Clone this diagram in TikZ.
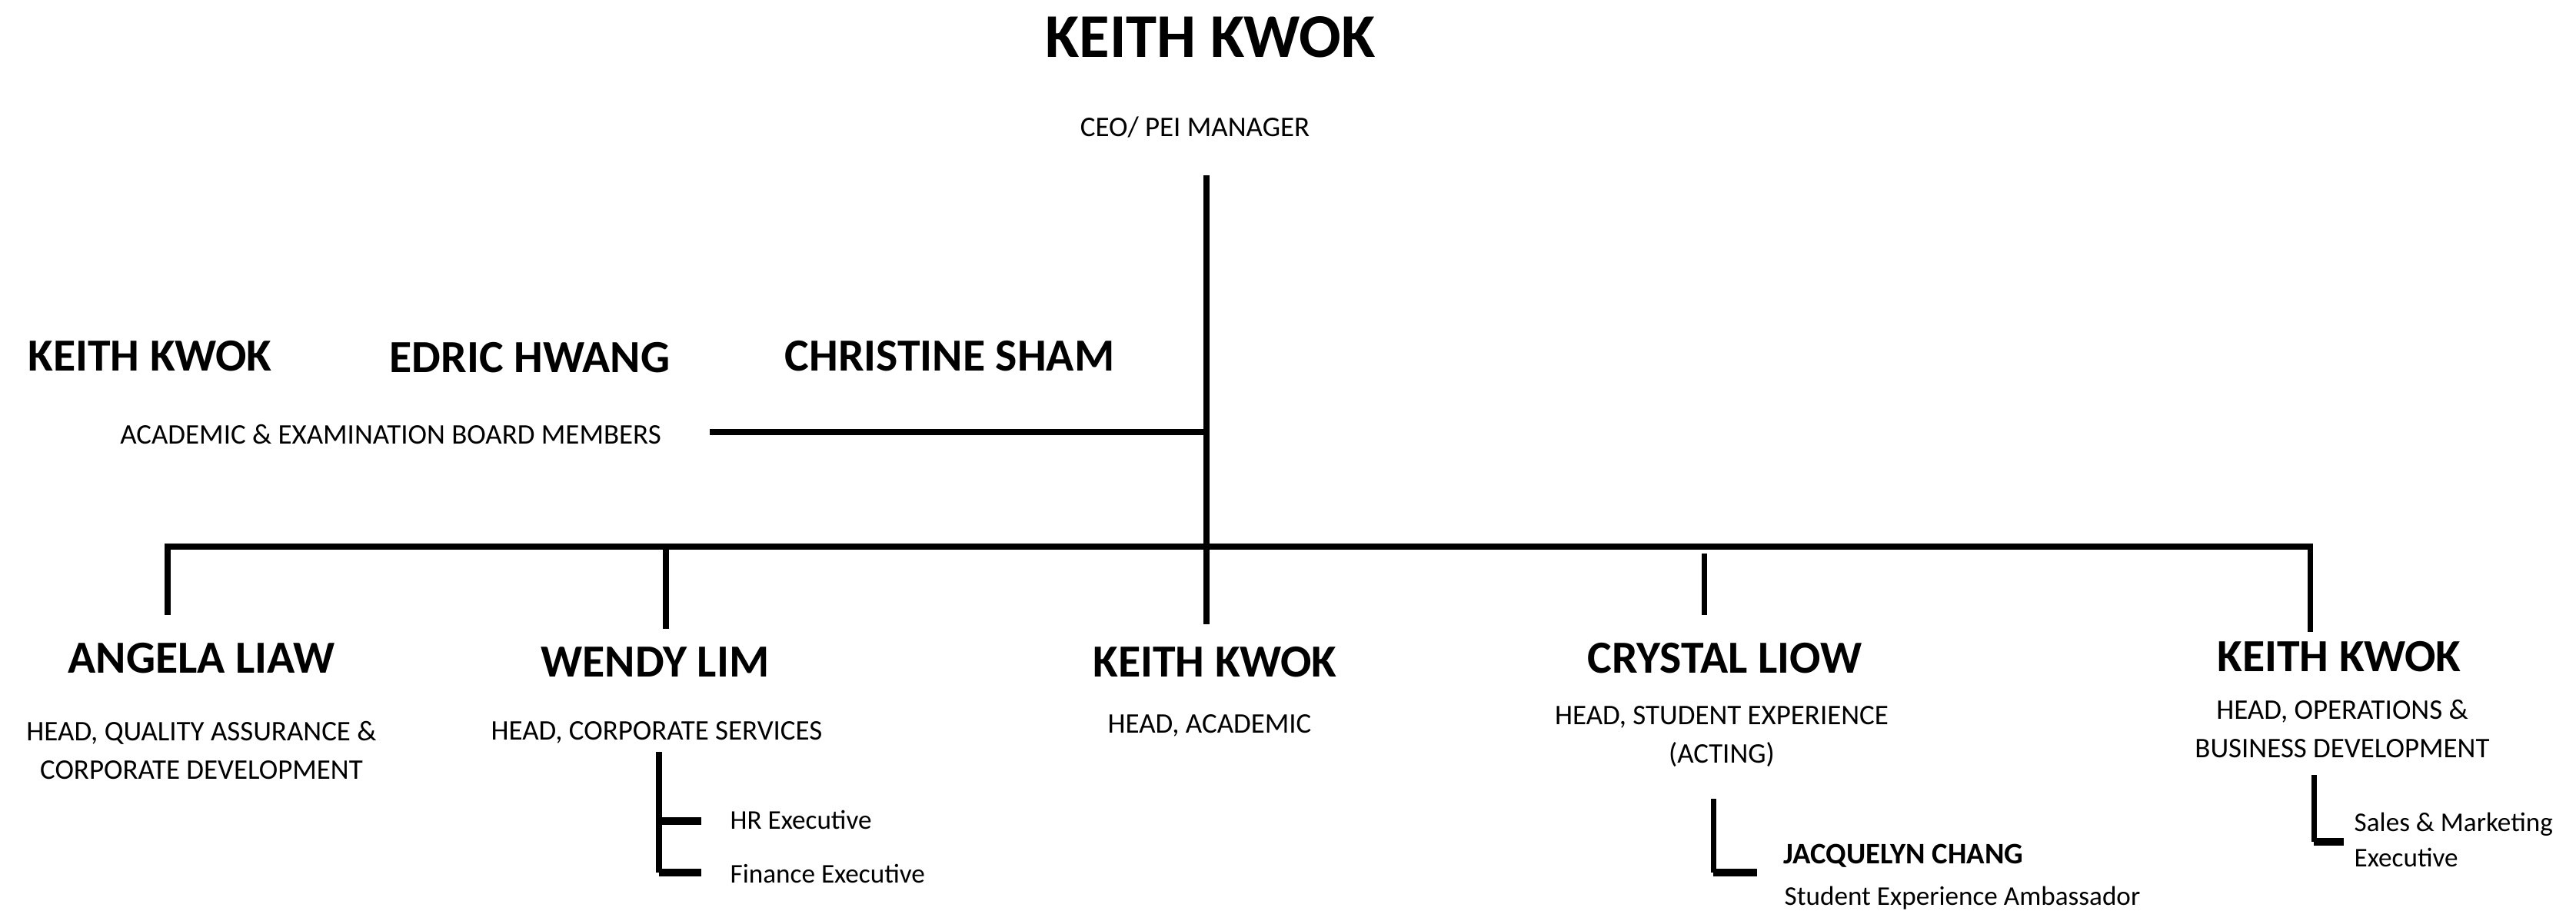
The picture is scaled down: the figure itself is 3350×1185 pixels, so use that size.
\documentclass[tikz,border=0pt]{standalone}
\usepackage{fontspec}
\setmainfont{Carlito}

\tikzset{
  boss/.style={font=\bfseries\fontsize{23}{27}\selectfont, anchor=base, inner sep=0pt},
  person/.style={font=\bfseries\fontsize{17}{20}\selectfont, anchor=base, inner sep=0pt},
  role/.style={font=\fontsize{10.5}{14.2}\selectfont, anchor=base, align=center, inner sep=0pt},
  staff/.style={font=\fontsize{10}{12.8}\selectfont, anchor=base west, align=left, inner sep=0pt},
  lien/.style={line width=2pt, line join=miter},
  tick/.style={line width=2.6pt}
}

\begin{document}
\begin{tikzpicture}[x=0.01cm,y=-0.01cm]
\useasboundingbox (0,0) rectangle (3350,1185);
\pgfmathsetmacro{\barre}{711};
\pgfmathsetmacro{\tronc}{1569};
\pgfmathsetmacro{\bord}{562};

\node[boss] (ceo) at (1574,75) {KEITH KWOK};
\node[role] (ceorole) at (1554,178) {CEO/ PEI MANAGER};

% board
\node[person] (board1) at (195,482) {KEITH KWOK};
\node[person] (board2) at (689,485) {EDRIC HWANG};
\node[person] (board3) at (1235,482) {CHRISTINE SHAM};
\node[role] (board) at (508,577) {ACADEMIC \& EXAMINATION BOARD MEMBERS};

% heads (two-line nodes sit on their last line)
\node[person] (angela) at (262,875) {ANGELA LIAW};
\node[role] (angelarole) at (262,1013) {HEAD, QUALITY ASSURANCE \&\\CORPORATE DEVELOPMENT};
\node[person] (wendy) at (852,880) {WENDY LIM};
\node[role] (wendyrole) at (854,962) {HEAD, CORPORATE SERVICES};
\node[person] (keith) at (1580,880) {KEITH KWOK};
\node[role] (keithrole) at (1573,953) {HEAD, ACADEMIC};
\node[person] (crystal) at (2243,875) {CRYSTAL LIOW};
\node[role] (crystalrole) at (2239,992) {HEAD, STUDENT EXPERIENCE\\(ACTING)};
\node[person] (ops) at (3042,873) {KEITH KWOK};
\node[role] (opsrole) at (3046,985) {HEAD, OPERATIONS \&\\BUSINESS DEVELOPMENT};

% staff
\node[staff] (hr) at (949,1078) {HR Executive};
\node[staff] (fin) at (949,1148) {Finance Executive};
\node[staff, font=\bfseries\fontsize{11}{13}\selectfont] (jac) at (2319,1123) {JACQUELYN CHANG};
\node[staff] (jacrole) at (2320,1177) {Student Experience Ambassador};
\node[staff] (sales) at (3061,1127) {Sales \& Marketing\\Executive};

\coordinate (T) at (\tronc,228);
\coordinate (K) at (\tronc,812);
\coordinate (B0) at (923,\bord);
\coordinate (B1) at (\tronc,\bord);
\coordinate (L) at (218,\barre);
\coordinate (R) at (3004,\barre);
\coordinate (A) at (218,800);
\coordinate (W0) at (866,\barre);
\coordinate (W) at (866,818);
\coordinate (C0) at (2216,720);
\coordinate (C) at (2216,800);
\coordinate (O) at (3004,822);

\draw[lien] (T) -- (K);
\draw[lien] (B0) -- (B1);
\draw[lien] (A) -- (L) -- (R) -- (O);
\draw[lien] (W0) -- (W);
\draw[lien] (C0) -- (C);

% sub lines
\coordinate (w1) at (857,978);
\coordinate (w2) at (857,1135);
\draw[lien] (w1) -- (w2);
\draw[tick] (w2) -- (912,1135);
\draw[tick] (857,1068) -- (912,1068);
\coordinate (c1) at (2228,1039);
\coordinate (c2) at (2228,1135);
\draw[lien] (c1) -- (c2);
\draw[tick] (c2) -- (2285,1135);
\coordinate (o1) at (3009,1008);
\coordinate (o2) at (3009,1095);
\draw[lien] (o1) -- (o2);
\draw[tick] (o2) -- (3048,1095);

\end{tikzpicture}
\end{document}
